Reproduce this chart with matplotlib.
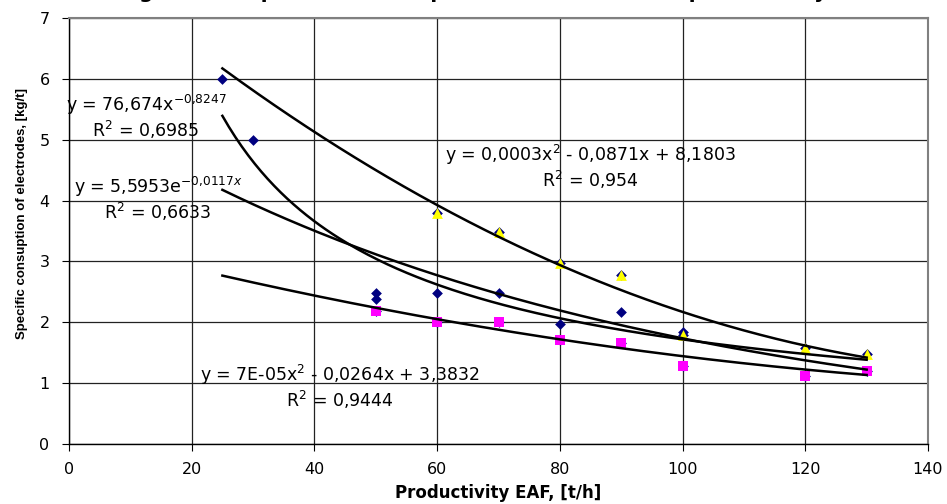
import numpy as np
import matplotlib
matplotlib.use("Agg")
import matplotlib.pyplot as plt

plt.rcParams["font.family"] = ["DejaVu Sans"]
plt.rcParams["mathtext.fontset"] = "dejavusans"

# ---------------------------------------------------------------------------
# Data
# ---------------------------------------------------------------------------
# all measurements (dark blue diamonds, drawn behind the other two series)
x_all = [25, 30, 50, 50, 50, 60, 60, 60, 70, 70, 70, 80, 80, 80,
         90, 90, 90, 100, 100, 100, 120, 120, 130, 130]
y_all = [6.0, 5.0, 2.48, 2.38, 2.19, 3.8, 2.48, 2.0, 3.49, 2.48, 2.0, 2.98, 1.97, 1.71,
         2.78, 2.17, 1.66, 1.84, 1.79, 1.28, 1.58, 1.12, 1.48, 1.2]

# upper group (yellow triangles)
x_yel = [60, 70, 80, 90, 100, 120, 130]
y_yel = [3.8, 3.49, 2.98, 2.78, 1.79, 1.58, 1.48]

# lower group (magenta squares)
x_mag = [50, 60, 70, 80, 90, 100, 120, 130]
y_mag = [2.19, 2.0, 2.0, 1.71, 1.66, 1.28, 1.12, 1.2]

# trendline coefficients (yellow quadratic uses the unrounded leading term)
POW_A, POW_B = 76.674, -0.8247
EXP_A, EXP_B = 5.5953, -0.0117
QY = [0.00027, -0.0871, 8.1803]
QM = [7e-05, -0.0264, 3.3832]
X_FIT = (25, 130)

# ---------------------------------------------------------------------------
# Figure
# ---------------------------------------------------------------------------
W, H = 947, 504
fig = plt.figure(figsize=(W / 100, H / 100), dpi=100)
ax = fig.add_axes([69 / W, 1 - 444 / H, (928 - 69) / W, (444 - 18) / H])

xf = np.linspace(X_FIT[0], X_FIT[1], 200)
ax.plot(xf, POW_A * xf ** POW_B, color="black", lw=1.8, zorder=4)
ax.plot(xf, EXP_A * np.exp(EXP_B * xf), color="black", lw=1.8, zorder=4)
ax.plot(xf, np.polyval(QY, xf), color="black", lw=1.8, zorder=4)
ax.plot(xf, np.polyval(QM, xf), color="black", lw=1.8, zorder=4)

ax.scatter(x_all, y_all, marker="D", s=30, color="#000080", zorder=3, linewidths=0)
ax.scatter(x_mag, y_mag, marker="s", s=48, color="#FF00FF", zorder=3.5, linewidths=0)
ax.scatter(x_yel, y_yel, marker="^", s=60, color="#FFFF00", zorder=3.5, linewidths=0)

ax.set_xlim(0, 140)
ax.set_ylim(0, 7)
ax.set_xticks(np.arange(0, 141, 20))
ax.set_yticks(np.arange(0, 8, 1))
ax.grid(True, color="#222222", lw=0.9)
ax.set_axisbelow(True)
ax.tick_params(axis="x", direction="out", length=5, pad=8, labelsize=11.5, color="black")
ax.tick_params(axis="y", direction="out", length=5, pad=9, labelsize=11.5, color="black")
for side in ("top", "right"):
    ax.spines[side].set_color("#808080")
    ax.spines[side].set_linewidth(1.5)
for side in ("left", "bottom"):
    ax.spines[side].set_color("black")
    ax.spines[side].set_linewidth(1.0)

ax.set_xlabel("Productivity EAF, [t/h]", fontsize=12, fontweight="bold", labelpad=5)
ax.set_ylabel("Specific consuption of electrodes, [kg/t]", fontsize=9.5,
              fontweight="bold", family="Liberation Sans")
ax.yaxis.set_label_coords(-0.048, 0.54)

# title, pushed up so only its descenders show, as in the original
fig.text(0.48, 1 + 2.5 / H, "Change of the specific consumption of electrodes on productivity",
         ha="center", va="baseline", fontsize=14.5, fontweight="bold")

# trendline equations
def label(px, py, txt):
    fig.text(px / W, 1 - py / H, txt, ha="center", va="center", fontsize=12.5,
             linespacing=1.1)

label(146, 117, "y = 76,674x$^{-0{,}8247}$\nR$^2$ = 0,6985")
label(158, 199, "y = 5,5953e$^{-0{,}0117x}$\nR$^2$ = 0,6633")
label(590, 167, "y = 0,0003x$^2$ - 0,0871x + 8,1803\nR$^2$ = 0,954")
label(340, 387, "y = 7E-05x$^2$ - 0,0264x + 3,3832\nR$^2$ = 0,9444")

fig.savefig("out.png", dpi=100)
